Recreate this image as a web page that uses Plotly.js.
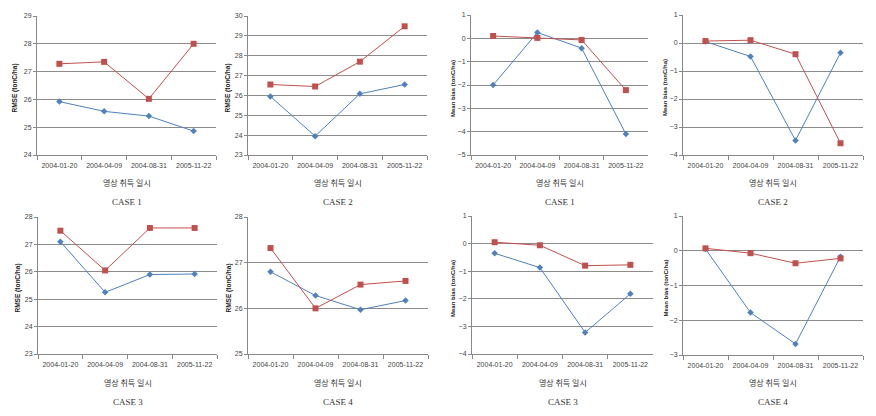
<!DOCTYPE html>
<html><head><meta charset="utf-8">
<script src="https://cdn.plot.ly/plotly-3.0.1.min.js"></script>
<style>html,body{margin:0;padding:0;background:#fff}#c{width:876px;height:416px}</style>
</head><body><div id="c"></div>
<script>
const categories = ['2004-01-20','2004-04-09','2004-08-31','2005-11-22'];
const xAxisLabel = '영상 취득 일시';
const caseLabels = ['CASE 1','CASE 2','CASE 1','CASE 2','CASE 3','CASE 4','CASE 3','CASE 4'];
const yLabels = ['RMSE (tonC/ha)','RMSE (tonC/ha)','Mean bias (tonC/ha)','Mean bias (tonC/ha)',
                 'RMSE (tonC/ha)','RMSE (tonC/ha)','Mean bias (tonC/ha)','Mean bias (tonC/ha)'];
// blue (diamond) series and red (square) series per panel
const blue1 = [25.92, 25.57, 25.40, 24.86];
const red1  = [27.28, 27.35, 26.02, 28.00];
const blue2 = [25.95, 23.95, 26.08, 26.55];
const red2  = [26.55, 26.45, 27.70, 29.48];
const blue3 = [-2.00, 0.25, -0.42, -4.10];
const red3  = [0.10, 0.02, -0.07, -2.22];
const blue4 = [0.05, -0.48, -3.48, -0.35];
const red4  = [0.07, 0.10, -0.40, -3.58];
const blue5 = [27.10, 25.25, 25.90, 25.92];
const red5  = [27.50, 26.05, 27.60, 27.60];
const blue6 = [26.80, 26.28, 25.97, 26.17];
const red6  = [27.32, 26.00, 26.52, 26.60];
const blue7 = [-0.35, -0.87, -3.22, -1.82];
const red7  = [0.05, -0.06, -0.80, -0.77];
const blue8 = [0.05, -1.78, -2.68, -0.17];
const red8  = [0.07, -0.07, -0.36, -0.22];
const yRanges = [[24,29],[23,30],[-5,1],[-4,1],[23,28],[25,28],[-4,1],[-3,1]];

const blues = [blue1,blue2,blue3,blue4,blue5,blue6,blue7,blue8];
const reds  = [red1,red2,red3,red4,red5,red6,red7,red8];

// pixel boxes [x0,x1,yTop,yBottom]
const boxes = [[37,216,16,155],[248,427,16,155],[471,648,15,155],[683,863,15,155],
               [38,217,217,354],[248,428,217,354],[472,653,216,354],[683,863,216,355]];
const yTitleX = [15,228,453,665,17,228,453,665];
const W = 876, H = 416;
const data = [], layout = {
  width: W, height: H, margin:{l:0,r:0,t:0,b:0}, showlegend:false,
  paper_bgcolor:'#fff', plot_bgcolor:'#fff', annotations:[]
};
const tickFont = {family:'Liberation Sans, Arial, sans-serif', size:7, color:'#444'};
for (let i=0;i<8;i++){
  const n = i===0?'':String(i+1);
  const b = boxes[i];
  data.push({x:categories, y:blues[i], xaxis:'x'+n, yaxis:'y'+n, type:'scatter', mode:'lines+markers',
    line:{color:'#4F81BD', width:1}, marker:{symbol:'diamond', size:5, color:'#4F81BD'}});
  data.push({x:categories, y:reds[i], xaxis:'x'+n, yaxis:'y'+n, type:'scatter', mode:'lines+markers',
    line:{color:'#C0504D', width:1}, marker:{symbol:'square', size:6, color:'#C0504D'}});
  layout['xaxis'+n] = {domain:[b[0]/W, b[1]/W], anchor:'y'+n, type:'category', range:[-0.5,3.5],
    showline:true, linecolor:'#888', linewidth:1, ticks:'outside', tickson:'boundaries', ticklen:4,
    tickcolor:'#888', showgrid:false, tickfont:tickFont, tickangle:0, ticklabelstandoff:4, fixedrange:true};
  layout['yaxis'+n] = {domain:[1-b[3]/H, 1-b[2]/H], anchor:'x'+n, range:yRanges[i], dtick:1,
    showline:true, linecolor:'#888', linewidth:1, ticks:'outside', ticklen:3, tickcolor:'#888',
    showgrid:true, gridcolor:'#8c8c8c', gridwidth:1, zeroline:false, tickfont:tickFont, fixedrange:true};
  const cx = (b[0]+b[1])/2/W;
  const rowTop = i<4;
  const isRmse = yLabels[i].indexOf('RMSE')===0;
  layout.annotations.push({text:xAxisLabel, xref:'paper', yref:'paper', x:cx, y:1-(rowTop?182:382)/H,
    xanchor:'center', yanchor:'middle',
    showarrow:false, font:{family:'Noto Sans CJK KR, sans-serif', size:8, color:'#333'}});
  layout.annotations.push({text:caseLabels[i], xref:'paper', yref:'paper', x:cx, y:1-(rowTop?202:402)/H,
    xanchor:'center', yanchor:'middle',
    showarrow:false, font:{family:'Liberation Serif, serif', size:9, color:'#333'}});
  layout.annotations.push({text:'<b>'+yLabels[i]+'</b>', xref:'paper', yref:'paper', x:yTitleX[i]/W,
    y:1-((b[2]+b[3])/2 + 3)/H, textangle:-90, showarrow:false, xanchor:'center', yanchor:'middle',
    font:{family:'Liberation Sans, Arial, sans-serif', size:isRmse?6.5:6, color:'#222'}});
}
Plotly.newPlot('c', data, layout, {displayModeBar:false, staticPlot:true});
</script></body></html>
